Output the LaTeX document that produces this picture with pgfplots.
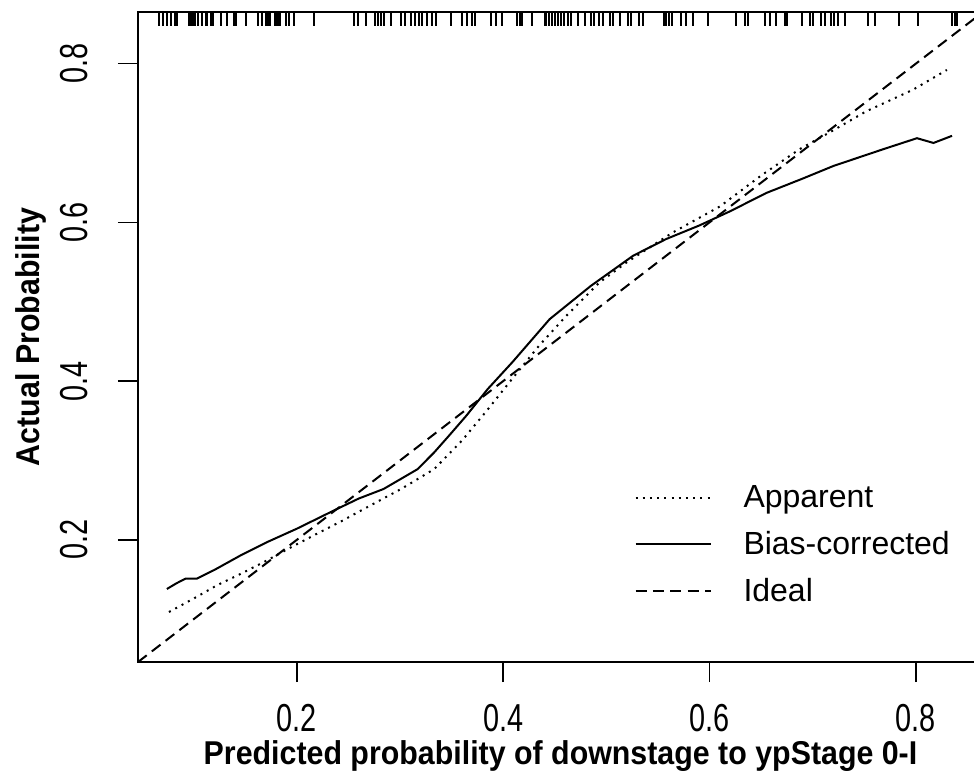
\documentclass[border=0pt]{standalone}
\usepackage{fontspec}
\setmainfont{Liberation Sans}
\usepackage{graphicx}
\usepackage{pgfplots}
\pgfplotsset{compat=1.18}

\newcommand{\tl}[1]{\scalebox{0.74}[1]{#1}}

\begin{document}
\begin{tikzpicture}
\begin{axis}[
  name=ax,
  scale only axis,
  width=422.5pt, height=325pt,
  xmin=0.046, xmax=0.865,
  ymin=0.046, ymax=0.865,
  xtick={0.2,0.4,0.6,0.8},
  ytick={0.2,0.4,0.6,0.8},
  xticklabels={\tl{0.2},\tl{0.4},\tl{0.6},\tl{0.8}},
  yticklabels={\tl{0.2},\tl{0.4},\tl{0.6},\tl{0.8}},
  tick pos=left,
  tick align=outside,
  major tick length=10pt,
  tick style={black, line width=0.8pt},
  axis line style={line width=0.9pt},
  tick label style={font=\fontsize{19.5}{22}\selectfont},
  xticklabel style={inner sep=0pt, text depth=0pt},
  yticklabel style={rotate=90, anchor=south},
  xticklabel shift=11pt,
  yticklabel shift=11.5pt,
  xlabel={\scalebox{0.92}[1]{Predicted probability of downstage to ypStage 0-I}},
  ylabel={\scalebox{0.92}[1]{Actual Probability}},
  xlabel style={inner sep=0pt},
  xlabel shift=4.5pt,
  label style={font=\bfseries\fontsize{16.5}{19}\selectfont},
  clip=false,
  legend style={draw=none, fill=none, at={(0.58,0.285)}, anchor=north west,
    font=\fontsize{16}{19}\selectfont, row sep=6.5pt,
    nodes={inner sep=2pt},
    /tikz/every odd column/.append style={column sep=14pt}},
  legend cell align=left,
  legend image code/.code={\draw[#1] (0pt,0pt) -- (37.5pt,0pt);},
]
% apparent
\addplot[black, line width=1pt, dash pattern=on 1pt off 2.6pt] coordinates {
(0.076,0.109)(0.100,0.126)(0.123,0.143)(0.147,0.158)(0.171,0.174)(0.195,0.191)
(0.220,0.208)(0.244,0.224)(0.268,0.241)(0.301,0.264)(0.333,0.289)(0.360,0.325)
(0.383,0.361)(0.410,0.405)(0.435,0.445)(0.461,0.482)(0.493,0.524)(0.519,0.549)
(0.564,0.587)(0.610,0.620)(0.650,0.659)(0.687,0.692)(0.720,0.716)(0.752,0.740)
(0.797,0.767)(0.830,0.792)};
\addlegendentry{Apparent}
% bias-corrected
\addplot[black, line width=1pt] coordinates {
(0.074,0.138)(0.083,0.145)(0.092,0.151)(0.103,0.151)(0.120,0.162)(0.145,0.180)
(0.171,0.197)(0.200,0.214)(0.236,0.237)(0.260,0.252)(0.284,0.264)(0.317,0.289)
(0.333,0.310)(0.348,0.332)(0.364,0.356)(0.385,0.390)(0.409,0.424)(0.445,0.478)
(0.485,0.520)(0.526,0.558)(0.558,0.579)(0.590,0.596)(0.620,0.614)(0.655,0.637)
(0.690,0.655)(0.720,0.671)(0.768,0.692)(0.801,0.706)(0.817,0.700)(0.835,0.709)};
\addlegendentry{Bias-corrected}
% ideal
\addplot[black, line width=1pt, dash pattern=on 5.5pt off 3.2pt] coordinates {
(0.046,0.046)(0.865,0.865)};
\addlegendentry{Ideal}
% rug of predicted probabilities
\addplot[black, only marks, mark=|, mark size=3.5pt, mark options={line width=1pt}, forget plot] coordinates {
(0.066,0.856)(0.070,0.856)(0.074,0.856)(0.078,0.856)(0.082,0.856)(0.084,0.856)
(0.095,0.856)(0.097,0.856)(0.099,0.856)(0.101,0.856)(0.104,0.856)(0.108,0.856)
(0.112,0.856)(0.113,0.856)(0.117,0.856)(0.119,0.856)(0.126,0.856)(0.132,0.856)
(0.139,0.856)(0.141,0.856)(0.151,0.856)(0.162,0.856)(0.166,0.856)(0.170,0.856)
(0.172,0.856)(0.174,0.856)(0.179,0.856)(0.181,0.856)(0.183,0.856)(0.184,0.856)
(0.189,0.856)(0.192,0.856)(0.197,0.856)(0.217,0.856)
(0.255,0.856)(0.259,0.856)(0.267,0.856)(0.276,0.856)(0.279,0.856)(0.282,0.856)
(0.284,0.856)(0.291,0.856)(0.301,0.856)(0.305,0.856)(0.311,0.856)(0.314,0.856)
(0.318,0.856)(0.321,0.856)(0.326,0.856)(0.331,0.856)(0.335,0.856)(0.349,0.856)
(0.360,0.856)(0.365,0.856)(0.370,0.856)(0.373,0.856)(0.388,0.856)(0.393,0.856)
(0.399,0.856)(0.413,0.856)(0.416,0.856)(0.418,0.856)(0.428,0.856)(0.440,0.856)
(0.441,0.856)(0.444,0.856)(0.447,0.856)(0.450,0.856)(0.453,0.856)(0.456,0.856)
(0.459,0.856)(0.463,0.856)(0.466,0.856)(0.472,0.856)(0.479,0.856)(0.485,0.856)
(0.488,0.856)(0.493,0.856)(0.497,0.856)(0.503,0.856)(0.506,0.856)(0.513,0.856)
(0.521,0.856)(0.524,0.856)(0.532,0.856)(0.535,0.856)(0.556,0.856)(0.558,0.856)
(0.561,0.856)(0.564,0.856)(0.572,0.856)(0.577,0.856)(0.584,0.856)(0.598,0.856)
(0.626,0.856)(0.634,0.856)(0.637,0.856)(0.654,0.856)(0.659,0.856)(0.664,0.856)
(0.673,0.856)(0.675,0.856)(0.690,0.856)(0.697,0.856)(0.700,0.856)(0.708,0.856)
(0.712,0.856)(0.718,0.856)(0.721,0.856)(0.724,0.856)(0.731,0.856)(0.754,0.856)
(0.760,0.856)(0.784,0.856)(0.802,0.856)(0.835,0.856)(0.838,0.856)(0.840,0.856)};
\end{axis}
\pgfresetboundingbox
\path (ax.south west) ++(-69pt,-60.5pt) rectangle ++(487pt,391.5pt);
\end{tikzpicture}
\end{document}
